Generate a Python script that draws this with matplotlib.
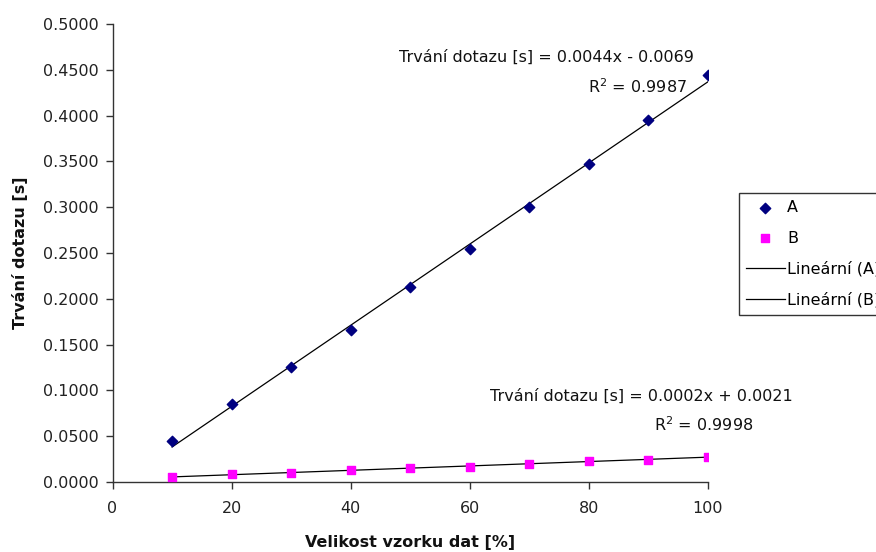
import numpy as np
import matplotlib
matplotlib.use("Agg")
import matplotlib.pyplot as plt
from matplotlib.ticker import FormatStrFormatter

plt.rcParams['font.family'] = ['DejaVu Sans']

# sample size [%] and query durations [s]
sizes = [10, 20, 30, 40, 50, 60, 70, 80, 90, 100]
time_a = [0.0451, 0.0855, 0.1259, 0.1659, 0.2125, 0.2540, 0.3002, 0.3475, 0.3952, 0.4440]
time_b = [0.0051, 0.0084, 0.0102, 0.0131, 0.0156, 0.0167, 0.0200, 0.0226, 0.0244, 0.0273]

eq_a = "Trvání dotazu [s] = 0.0044x - 0.0069"
r2_a = "R$^2$ = 0.9987"
eq_b = "Trvání dotazu [s] = 0.0002x + 0.0021"
r2_b = "R$^2$ = 0.9998"

W, H = 876, 552
fs = 11.5
fig = plt.figure(figsize=(W / 100, H / 100), dpi=100)
ax = fig.add_axes([112.5 / W, 1 - 482 / H, (708 - 112.5) / W, (482 - 24) / H])

x = np.array(sizes)
ya = np.array(time_a)
yb = np.array(time_b)

# linear trendlines
ka, qa = np.polyfit(x, ya, 1)
kb, qb = np.polyfit(x, yb, 1)
ax.plot(x, ka * x + qa, color='black', lw=0.9, label='Lineární (A)', zorder=2)
ax.plot(x, kb * x + qb, color='black', lw=0.9, label='Lineární (B)', zorder=2)

ax.scatter(x, ya, marker='D', s=28, color='#000080', label='A', zorder=3)
ax.scatter(x, yb, marker='s', s=36, color='#ff00ff', label='B', zorder=3)

ax.set_xlim(0, 100)
ax.set_ylim(0, 0.5)
ax.set_xticks(np.arange(0, 101, 20))
ax.set_yticks(np.arange(0, 0.5001, 0.05))
ax.yaxis.set_major_formatter(FormatStrFormatter('%.4f'))
ax.tick_params(direction='out', length=5, width=1, colors='#333333',
               labelcolor='#222222', labelsize=fs, pad=5)
ax.tick_params(axis='x', pad=9)
for s in ['top', 'right']:
    ax.spines[s].set_visible(False)
for s in ['left', 'bottom']:
    ax.spines[s].set_color('#333333')
    ax.spines[s].set_linewidth(1)

fig.text(20 / W, 1 - 253 / H, "Trvání dotazu [s]", rotation=90, ha='center', va='center',
         fontsize=fs, fontweight='bold', color='#111111')
fig.text(410 / W, 1 - 543 / H, "Velikost vzorku dat [%]", ha='center', va='center',
         fontsize=fs, fontweight='bold', color='#111111')

# trendline equations
fig.text(694 / W, 1 - 57 / H, eq_a, ha='right', va='center', fontsize=fs, color='#111111')
fig.text(687 / W, 1 - 87 / H, r2_a, ha='right', va='center', fontsize=fs, color='#111111')
fig.text(793 / W, 1 - 396 / H, eq_b, ha='right', va='center', fontsize=fs, color='#111111')
fig.text(753 / W, 1 - 425 / H, r2_b, ha='right', va='center', fontsize=fs, color='#111111')

# legend sits partly past the right edge of the figure
handles, labels = ax.get_legend_handles_labels()
order = [labels.index(n) for n in ['A', 'B', 'Lineární (A)', 'Lineární (B)']]
leg = fig.legend([handles[i] for i in order], [labels[i] for i in order],
                 loc='upper left', bbox_to_anchor=(739 / W, 1 - 193 / H),
                 fontsize=fs, frameon=True, fancybox=False, edgecolor='black',
                 handlelength=2.4, handletextpad=0.15, borderpad=0.45,
                 labelspacing=0.97, borderaxespad=0)
leg.get_frame().set_linewidth(1)

fig.savefig("out.png", dpi=100)
